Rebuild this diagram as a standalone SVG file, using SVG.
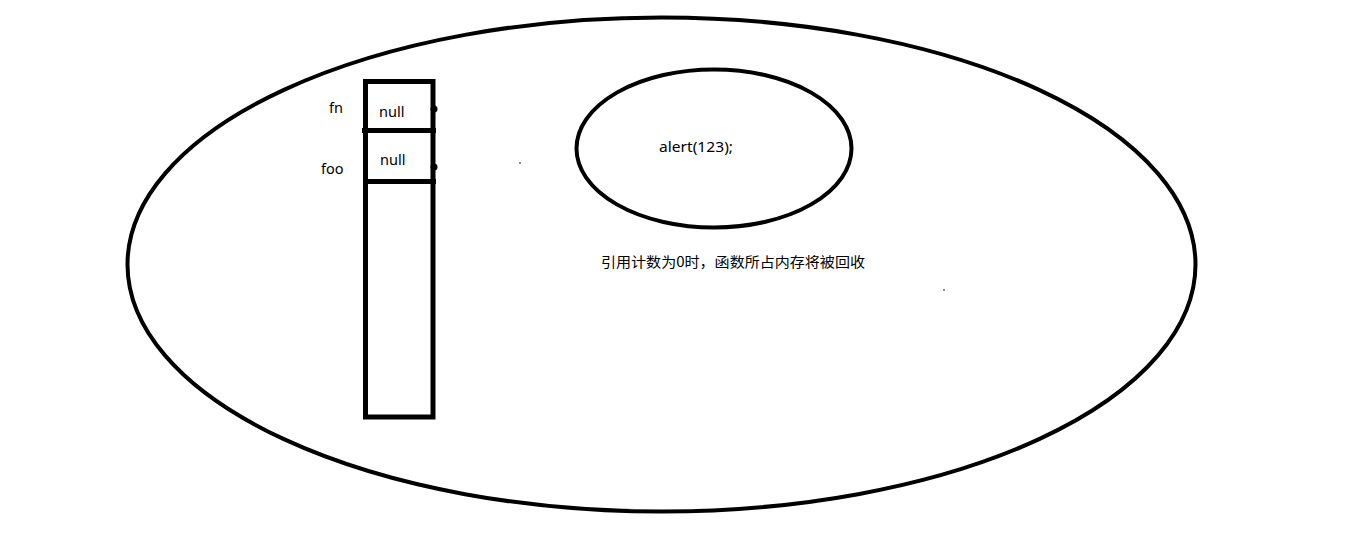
<svg xmlns="http://www.w3.org/2000/svg" width="1360" height="545" viewBox="0 0 1360 545">
<style>
.shape{fill:none;stroke:#000;stroke-width:4}
.box{fill:none;stroke:#000;stroke-width:5}
.t{font-family:"Noto Sans","Liberation Sans","Noto Sans CJK SC",sans-serif;font-size:14.5px;fill:#000}
.c{font-family:"Noto Sans CJK SC","Noto Sans",sans-serif;font-size:14px;fill:#000}
</style>
<rect width="1360" height="545" fill="#fff"/>
<g id="heap">
<ellipse class="shape" cx="661.5" cy="264.5" rx="534" ry="247"/>
</g>
<g id="stack">
<rect class="box" x="365.5" y="81.5" width="67.5" height="335.5"/>
<line class="box" x1="362" y1="130.5" x2="436" y2="130.5"/>
<line class="box" x1="365.5" y1="181.5" x2="436" y2="181.5"/>
<circle cx="434" cy="109" r="3.5"/>
<circle cx="434" cy="167" r="3.5"/>
<text class="t" x="329" y="113">fn</text>
<text class="t" x="379" y="117">null</text>
<text class="t" x="321" y="174">foo</text>
<text class="t" x="380" y="165">null</text>
</g>
<g id="function">
<ellipse class="shape" cx="714" cy="148.5" rx="137.5" ry="79"/>
<text class="t" x="659" y="152" textLength="74" lengthAdjust="spacingAndGlyphs">alert(123);</text>
</g>
<g id="note">
<text class="c" x="601" y="267" textLength="264" lengthAdjust="spacingAndGlyphs">引用计数为0时，函数所占内存将被回收</text>
</g>
<g id="connectors">
<circle cx="520" cy="163" r="0.8"/>
<circle cx="944" cy="290" r="0.8"/>
</g>
</svg>
